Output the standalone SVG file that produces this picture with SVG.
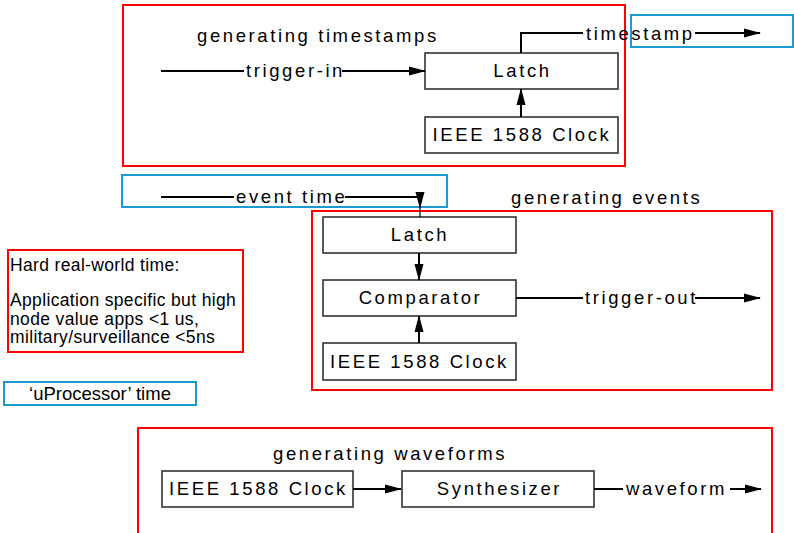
<svg xmlns="http://www.w3.org/2000/svg" width="794" height="533" viewBox="0 0 794 533">
<style>
  text { font-family: "Liberation Sans", Arial, sans-serif; font-size: 18.5px; fill: #000; }
  .sp { letter-spacing: 2.6px; }
  .mid { text-anchor: middle; }
  .note { font-size: 17.5px; letter-spacing: 0.35px; }
  .red { fill: none; stroke: #ff0000; stroke-width: 2; }
  .blue { fill: none; stroke: #1b9bd1; stroke-width: 2; }
  .box { fill: #fff; stroke: #333; stroke-width: 1.6; }
  .wire { fill: none; stroke: #000; stroke-width: 2; }
  .thin { fill: none; stroke: #000; stroke-width: 1.2; }
</style>
<defs>
  <marker id="arr" markerUnits="userSpaceOnUse" markerWidth="17" markerHeight="10" refX="16" refY="5" orient="auto">
    <path d="M0,0.5 L17,5 L0,9.5 z" fill="#000"/>
  </marker>
</defs>
<rect width="794" height="533" fill="#fff"/>

<g id="group-timestamps">
  <rect class="red" x="123" y="5" width="502" height="161"/>
  <text class="sp" x="197" y="42">generating timestamps</text>
</g>
<g id="uproc-top">
  <rect class="blue" x="631" y="15" width="162" height="32"/>
</g>
<g id="uproc-mid">
  <rect class="blue" x="122" y="175" width="325" height="32"/>
</g>
<g id="group-events">
  <rect class="red" x="312" y="211" width="460" height="179"/>
  <text class="sp" x="511" y="204">generating events</text>
</g>
<g id="hard-time">
  <rect class="red" x="8" y="250" width="235" height="102"/>
  <text class="note" x="10" y="271">Hard real-world time:</text>
  <text class="note" x="10" y="306">Application specific but high</text>
  <text class="note" x="10" y="324.5">node value apps &lt;1 us,</text>
  <text class="note" x="10" y="343">military/surveillance &lt;5ns</text>
</g>
<g id="uproc-time">
  <rect class="blue" x="4" y="382" width="192" height="23"/>
  <text class="mid" x="100" y="400">‘uProcessor’ time</text>
</g>
<g id="group-waveforms">
  <rect class="red" x="138" y="428" width="634" height="106"/>
  <text class="sp" x="273" y="460">generating waveforms</text>
</g>

<g id="latch1">
  <rect class="box" x="425" y="53" width="193" height="36"/>
  <text class="sp mid" x="522.5" y="77">Latch</text>
</g>
<g id="clock1">
  <rect class="box" x="425" y="117" width="193" height="36"/>
  <text class="sp mid" x="522" y="141">IEEE 1588 Clock</text>
</g>
<g id="latch2">
  <rect class="box" x="323" y="217" width="193" height="36"/>
  <text class="sp mid" x="420" y="241">Latch</text>
</g>
<g id="comparator">
  <rect class="box" x="323" y="280" width="193" height="36"/>
  <text class="sp mid" x="420.5" y="304">Comparator</text>
</g>
<g id="clock2">
  <rect class="box" x="323" y="343" width="193" height="37"/>
  <text class="sp mid" x="419.5" y="368">IEEE 1588 Clock</text>
</g>
<g id="clock3">
  <rect class="box" x="162" y="471" width="191" height="36"/>
  <text class="sp mid" x="258.5" y="495">IEEE 1588 Clock</text>
</g>
<g id="synth">
  <rect class="box" x="402" y="471" width="192" height="36"/>
  <text class="sp mid" x="499.5" y="495">Synthesizer</text>
</g>

<g id="connectors">
  <path class="wire" d="M161,71 H244"/>
  <text class="sp" x="246" y="76.5">trigger-in</text>
  <path class="wire" d="M342,71 H425" marker-end="url(#arr)"/>

  <path class="wire" d="M521,53 V33 H583"/>
  <text class="sp" x="586" y="39.5">timestamp</text>
  <path class="wire" d="M695,33 H760" marker-end="url(#arr)"/>

  <path class="wire" d="M521,117 V89" marker-end="url(#arr)"/>

  <path class="wire" d="M161,197 H234"/>
  <text class="sp" x="236" y="203">event time</text>
  <path class="wire" d="M345,197 H420 V208" marker-end="url(#arr)"/>
  <path class="thin" d="M420,207 V217"/>

  <path class="wire" d="M419,253 V280" marker-end="url(#arr)"/>
  <path class="wire" d="M419,343 V316" marker-end="url(#arr)"/>

  <path class="wire" d="M516,298 H583"/>
  <text class="sp" x="585" y="303.5">trigger-out</text>
  <path class="wire" d="M695,298 H760" marker-end="url(#arr)"/>

  <path class="wire" d="M353,489 H401" marker-end="url(#arr)"/>

  <path class="wire" d="M594,489 H623"/>
  <text class="sp" x="626" y="495">waveform</text>
  <path class="wire" d="M730,489 H761" marker-end="url(#arr)"/>
</g>
</svg>
